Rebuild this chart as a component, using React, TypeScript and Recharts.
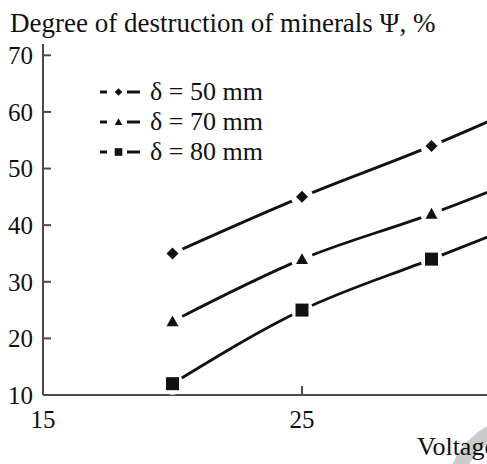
import React from "react";
import { LineChart, Line, XAxis, YAxis } from "recharts";

const FONT = "'Liberation Serif', 'DejaVu Serif', serif";
const INK = "#111";
const AXIS = "#4a4a4a";

const voltage = [20, 25, 30, 35];
const delta50 = [35, 45, 54, 64];
const delta70 = [23, 34, 42, 51];
const delta80 = [12, 25, 34, 43];
const xTicks = [15, 25];
const yTicks = [10, 20, 30, 40, 50, 60, 70];

const series = [
  { key: "d50", label: "δ = 50 mm", shape: "diamond", values: delta50 },
  { key: "d70", label: "δ = 70 mm", shape: "triangle", values: delta70 },
  { key: "d80", label: "δ = 80 mm", shape: "square", values: delta80 },
];

const data = voltage.map((v, i) => ({
  v,
  d50: delta50[i],
  d70: delta70[i],
  d80: delta80[i],
}));

function Marker({ shape, x, y, s }: { shape: string; x: number; y: number; s: number }) {
  if (shape === "diamond") {
    return <path d={`M${x},${y - s} L${x + s},${y} L${x},${y + s} L${x - s},${y} Z`} fill={INK} />;
  }
  if (shape === "triangle") {
    return <path d={`M${x},${y - s} L${x + s},${y + s * 0.8} L${x - s},${y + s * 0.8} Z`} fill={INK} />;
  }
  return <rect x={x - s} y={y - s} width={s * 2} height={s * 2} fill={INK} />;
}

const makeDot = (shape: string) => (props: any) => {
  const { cx, cy, index } = props;
  if (cx == null || cy == null) return <g key={index} />;
  const s = shape === "square" ? 6.5 : 6;
  return (
    <g key={index}>
      <circle cx={cx} cy={cy} r={11} fill="#fff" />
      <Marker shape={shape} x={cx} y={cy} s={s} />
    </g>
  );
};

function LegendBox() {
  return (
    <div style={{ position: "absolute", left: 97, top: 77, fontFamily: FONT, fontSize: 26, color: INK }}>
      {series.map((s) => (
        <div key={s.key} style={{ display: "flex", alignItems: "center", height: 30 }}>
          <svg width={46} height={16} style={{ marginRight: 7 }}>
            <line x1={3} y1={8} x2={10} y2={8} stroke={INK} strokeWidth={3} />
            <Marker shape={s.shape} x={21.5} y={8} s={3.8} />
            <line x1={30} y1={8} x2={43} y2={8} stroke={INK} strokeWidth={3} />
          </svg>
          <span style={{ lineHeight: 1 }}>{s.label}</span>
        </div>
      ))}
    </div>
  );
}

export default function App() {
  const tickStyle = { fontFamily: FONT, fontSize: 25, fill: INK };
  return (
    <div style={{ position: "fixed", left: 0, top: 0, width: 487, height: 464, overflow: "hidden", background: "#fff" }}>
      <svg width={487} height={464} style={{ position: "absolute", left: 0, top: 0 }}>
        <circle cx={530} cy={500} r={78} fill="none" stroke="#cbcbcb" strokeWidth={15} />
      </svg>
      <div style={{ position: "absolute", left: 0, top: 0 }}>
        <LineChart width={620} height={464} data={data} margin={{ top: 44, right: 59, left: 0, bottom: 0 }}>
          <XAxis
            type="number"
            dataKey="v"
            domain={[15, 35]}
            ticks={xTicks}
            height={69}
            stroke={AXIS}
            strokeWidth={2}
            tickSize={-9}
            tickMargin={24}
            tick={tickStyle}
          />
          <YAxis
            type="number"
            domain={[10, 72]}
            ticks={yTicks}
            width={43}
            stroke={AXIS}
            strokeWidth={2}
            tickSize={-8}
            tickMargin={18}
            tick={tickStyle}
          />
          {series.map((s) => (
            <Line
              key={s.key}
              type="monotone"
              dataKey={s.key}
              name={s.label}
              stroke={INK}
              strokeWidth={2.8}
              dot={makeDot(s.shape)}
              activeDot={false}
              isAnimationActive={false}
            />
          ))}
        </LineChart>
      </div>
      <LegendBox />
      <svg width={487} height={464} style={{ position: "absolute", left: 0, top: 0, pointerEvents: "none" }}>
        <text x={10} y={32} fontFamily={FONT} fontSize={27} fill={INK}>
          Degree of destruction of minerals Ψ, %
        </text>
        <text x={417} y={455} fontFamily={FONT} fontSize={26} fill={INK}>
          Voltage, kV
        </text>
      </svg>
    </div>
  );
}
